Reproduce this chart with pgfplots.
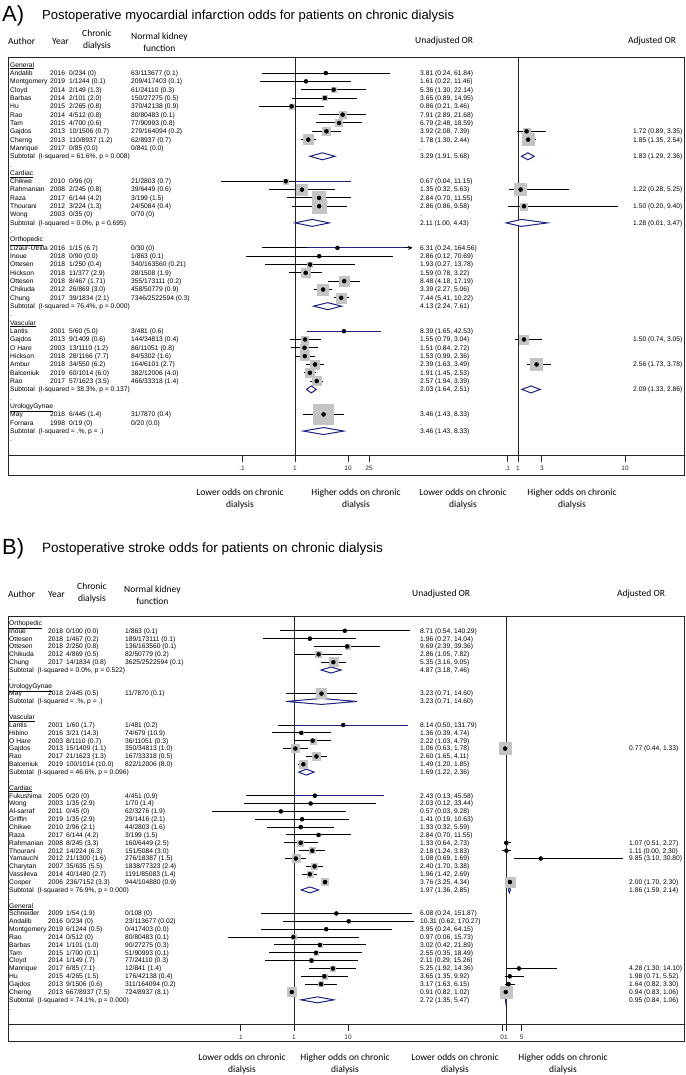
\documentclass[border=0pt]{standalone}
\usepackage{pgfplots}
\pgfplotsset{compat=1.18}
\usepackage{pgfplotstable}
\usepackage{fontspec}
\setmainfont{Liberation Sans}
\newfontfamily\calfont{Carlito}
\definecolor{boxgray}{RGB}{196,196,196}
\definecolor{dnavy}{RGB}{28,36,128}

% ---------- Panel A, unadjusted ----------
\pgfplotstableread{
row or lo hi h
1 3.81 0.24 61.84 0
2 1.61 0.22 11.46 0
3 5.36 1.30 22.14 2.5
4 3.65 0.89 14.95 2.5
5 0.86 0.21 3.46 2.5
6 7.91 2.89 21.68 3.5
7 6.79 2.48 18.59 3.5
8 3.92 2.08 7.39 4
9 1.78 1.30 2.44 5
14 0.67 0.04 11.15 2.5
15 1.35 0.32 5.63 5.5
16 2.84 0.70 11.55 6.5
17 2.86 0.86 9.58 7
22 6.31 0.24 164.56 0
23 2.86 0.12 70.69 0
24 1.93 0.27 13.78 2.5
25 1.59 0.78 3.22 4.5
26 8.48 4.18 17.19 5
27 3.39 2.27 5.06 5.5
28 7.44 5.41 10.22 5
32 8.39 1.65 42.53 0
33 1.55 0.79 3.04 3.5
34 1.51 0.84 2.72 4
35 1.53 0.99 2.36 4.5
36 2.39 1.63 3.49 4.5
37 1.91 1.45 2.53 4.5
38 2.57 1.94 3.39 4.5
42 3.46 1.43 8.33 10
}\tabAu
% ---------- Panel A, adjusted ----------
\pgfplotstableread{
row or lo hi h
8 1.72 0.89 3.35 3.5
9 1.85 1.35 2.54 6
15 1.22 0.28 5.25 6
17 1.50 0.20 9.40 3.5
33 1.50 0.74 3.05 4.5
36 2.56 1.73 3.78 6
}\tabAa
% ---------- Panel B, unadjusted ----------
\pgfplotstableread{
row or lo hi h
1 8.71 0.54 140.29 0
2 1.96 0.27 14.04 1.5
3 9.69 2.39 39.36 2.5
4 2.86 1.05 7.82 3
5 5.35 3.16 9.05 4.5
9 3.23 0.71 14.60 5
13 8.14 0.50 131.79 0
14 1.36 0.39 4.74 1.5
15 2.22 1.03 4.79 3
16 1.06 0.63 1.78 4
17 2.60 1.65 4.11 4
18 1.49 1.20 1.85 4
22 2.43 0.13 45.58 0
23 2.03 0.12 33.44 0
24 0.57 0.03 9.28 0
25 1.41 0.19 10.63 1
26 1.33 0.32 5.59 1.5
27 2.84 0.70 11.55 1.5
28 1.33 0.64 2.73 3
29 2.18 1.24 3.83 3
30 1.08 0.69 1.69 4
31 2.40 1.70 3.38 3
32 1.96 1.42 2.69 3
33 3.76 3.25 4.34 3.5
37 6.08 0.24 151.87 0
38 10.31 0.62 170.27 0
39 3.95 0.24 64.15 0
40 0.97 0.06 15.73 2.5
41 3.02 0.42 21.89 2
42 2.55 0.35 18.49 2
43 2.11 0.29 15.26 2
44 5.25 1.92 14.36 2.5
45 3.65 1.35 9.92 2.5
46 3.17 1.63 6.15 2.5
47 0.91 0.82 1.02 4.5
}\tabBu
% ---------- Panel B, adjusted ----------
\pgfplotstableread{
row or lo hi h
16 0.77 0.44 1.33 6
28 1.07 0.51 2.27 1.5
29 1.11 0.00 2.30 0
30 9.85 3.10 30.80 0
33 2.00 1.70 2.30 5
44 4.28 1.30 14.10 0
45 1.98 0.71 5.52 0
46 1.64 0.82 3.30 1.5
47 0.94 0.83 1.06 6
}\tabBa

\pgfplotsset{
  fpax/.style={
    scale only axis, anchor=north west, clip=false,
    axis y line=none, axis x line*=bottom, y dir=reverse,
    x axis line style={-, line width=0.9pt, color=black!85},
    tick align=outside, major tick length=7pt,
    xtick style={line width=0.9pt, color=black!85},
    xminorticks=false, ytick=\empty,
    ticklabel style={font=\fontsize{6.5}{7.5}\selectfont, text=black!85},
    /pgf/number format/assume math mode=true,
  },
  sq/.style={only marks, mark=square*, color=boxgray, scatter,
    mark options={draw=boxgray, fill=boxgray},
    scatter/use mapped color={draw=boxgray, fill=boxgray},
    visualization depends on={\thisrow{h} \as \hsz},
    scatter/@pre marker code/.append style={/tikz/mark size=\hsz}},
  ci/.style={only marks, mark=none,
    error bars/.cd, x dir=both, x explicit, error mark=none,
    error bar style={line width=1pt, draw=black, line cap=butt}},
  dot/.style={only marks, mark=*, mark size=1.5pt, black},
  dia/.style={draw=dnavy, fill=white, line width=1pt, mark=none},
  nul/.style={black!85, line width=0.9pt, mark=none},
  nv/.style={dnavy, line width=1pt, mark=none},
}
\tikzset{
  tx/.style={anchor=base west, inner sep=0pt, yshift=-2.4pt, font=\fontsize{6.7}{7.5}\selectfont},
  hd/.style={inner sep=0pt, font=\calfont\fontsize{9.5}{11.5}\selectfont, align=center},
  bl/.style={inner sep=0pt, font=\calfont\fontsize{9.5}{12}\selectfont, align=center},
}
\newcommand\xa{10}\newcommand\xy{50}\newcommand\xc{69}\newcommand\xn{131}\newcommand\xo{420}\newcommand\xq{633}
\newcommand\RowT[6]{%
  \node[tx] at (\xa,#1) {#2};\node[tx] at (\xy,#1) {#3};
  \node[tx] at (\xc,#1) {#4};\node[tx] at (\xn,#1) {#5};
  \node[tx] at (\xo,#1) {#6};}
\newcommand\AdjT[2]{\node[tx] at (\xq,#1) {#2};}
\newcommand\LabT[2]{\node[tx] at (\xa,#1) {#2};}
\newcommand\SubT[3]{\node[tx] at (\xa,#1) {#2};\node[tx] at (\xo,#1) {#3};}

\begin{document}
\begin{tikzpicture}
\begin{scope}[x=1pt,y=-1pt]
\useasboundingbox (0,0) rectangle (685,1075);
% ---------------- Panel A frame and labels
\node[anchor=west, inner sep=0pt, font=\fontsize{22}{24}\selectfont] at (2,16) {A)};
\node[anchor=west, inner sep=0pt, font=\fontsize{13}{15}\selectfont] at (42,16) {Postoperative myocardial infarction odds for patients on chronic dialysis};
\node[hd, anchor=west] at (8,41) {Author};
\node[hd, anchor=west] at (52,41) {Year};
\node[hd, anchor=west] at (82,40) {Chronic\\dialysis};
\node[hd, anchor=west] at (131,42) {Normal kidney\\function};
\node[hd, anchor=west] at (415,41) {Unadjusted OR};
\node[hd, anchor=west] at (628,41) {Adjusted OR};
\draw[line width=1pt, black!85] (8,58) rectangle (684,475);
\draw[line width=0.9pt, black!85] (8,455) -- (684,455);
\node[bl] at (240,499) {Lower odds on chronic\\dialysis};
\node[bl] at (356,499) {Higher odds on chronic\\dialysis};
\node[bl] at (463,499) {Lower odds on chronic\\dialysis};
\node[bl] at (572,499) {Higher odds on chronic\\dialysis};
% ---------------- Panel B frame and labels
\node[anchor=west, inner sep=0pt, font=\fontsize{22}{24}\selectfont] at (2,549) {B)};
\node[anchor=west, inner sep=0pt, font=\fontsize{13.5}{15}\selectfont] at (42,549) {Postoperative stroke odds for patients on chronic dialysis};
\node[hd, anchor=west] at (8,594) {Author};
\node[hd, anchor=west] at (48,594) {Year};
\node[hd, anchor=west] at (77,593) {Chronic\\dialysis};
\node[hd, anchor=west] at (124,595) {Normal kidney\\function};
\node[hd, anchor=west] at (412,594) {Unadjusted OR};
\node[hd, anchor=west] at (617,594) {Adjusted OR};
\draw[line width=1pt, black!85] (8,616) rectangle (684,1041);
\draw[line width=0.9pt, black!85] (8,1024) -- (684,1024);
\node[bl] at (242,1064) {Lower odds on chronic\\dialysis};
\node[bl] at (345,1064) {Higher odds on chronic\\dialysis};
\node[bl] at (455,1064) {Lower odds on chronic\\dialysis};
\node[bl] at (563,1064) {Higher odds on chronic\\dialysis};
\end{scope}

% ---------------- Panel A table text
\begin{scope}[x=1pt, y=-8.326pt, yshift=-64.7pt]
\LabT{0}{\underline{General}}
\RowT{1}{Andalib}{2016}{0/234 (0)}{63/113677 (0.1)}{3.81 (0.24, 61.84)}
\RowT{2}{Montgomery}{2019}{1/1244 (0.1)}{209/417403 (0.1)}{1.61 (0.22, 11.46)}
\RowT{3}{Cloyd}{2014}{2/149 (1.3)}{61/24110 (0.3)}{5.36 (1.30, 22.14)}
\RowT{4}{Barbas}{2014}{2/101 (2.0)}{150/27275 (0.5)}{3.65 (0.89, 14.95)}
\RowT{5}{Hu}{2015}{2/265 (0.8)}{370/42138 (0.9)}{0.86 (0.21, 3.46)}
\RowT{6}{Rao}{2014}{4/512 (0.8)}{80/80483 (0.1)}{7.91 (2.89, 21.68)}
\RowT{7}{Tam}{2015}{4/700 (0.6)}{77/90993 (0.8)}{6.79 (2.48, 18.59)}
\RowT{8}{Gajdos}{2013}{10/1506 (0.7)}{279/164094 (0.2)}{3.92 (2.08, 7.39)}
\RowT{9}{Cherng}{2013}{110/8937 (1.2)}{62/8937 (0.7)}{1.78 (1.30, 2.44)}
\RowT{10}{Manrique}{2017}{0/85 (0.0)}{0/841 (0.0)}{.}
\SubT{11}{Subtotal\ \ (I-squared = 61.6\%, p = 0.008)}{3.29 (1.91, 5.68)}
\LabT{12}{.}
\LabT{13}{\underline{Cardiac}}
\RowT{14}{Chikwe}{2010}{0/96 (0)}{21/2803 (0.7)}{0.67 (0.04, 11.15)}
\RowT{15}{Rahmanian}{2008}{2/245 (0.8)}{39/6449 (0.6)}{1.35 (0.32, 5.63)}
\RowT{16}{Raza}{2017}{6/144 (4.2)}{3/199 (1.5)}{2.84 (0.70, 11.55)}
\RowT{17}{Thourani}{2012}{3/224 (1.3)}{24/5084 (0.4)}{2.86 (0.86, 9.58)}
\RowT{18}{Wong}{2003}{0/35 (0)}{0/70 (0)}{.}
\SubT{19}{Subtotal\ \ (I-squared = 0.0\%, p = 0.695)}{2.11 (1.00, 4.43)}
\LabT{20}{.}
\LabT{21}{\underline{Orthopedic}}
\RowT{22}{Lizaur-Utrilla}{2016}{1/15 (6.7)}{0/30 (0)}{6.31 (0.24, 164.56)}
\RowT{23}{Inoue}{2018}{0/90 (0.0)}{1/863 (0.1)}{2.86 (0.12, 70.69)}
\RowT{24}{Ottesen}{2018}{1/250 (0.4)}{340/163560 (0.21)}{1.93 (0.27, 13.78)}
\RowT{25}{Hickson}{2018}{11/377 (2.9)}{28/1508 (1.9)}{1.59 (0.78, 3.22)}
\RowT{26}{Ottesen}{2018}{8/467 (1.71)}{355/173111 (0.2)}{8.48 (4.18, 17.19)}
\RowT{27}{Chikuda}{2012}{26/869 (3.0)}{458/50779 (0.9)}{3.39 (2.27, 5.06)}
\RowT{28}{Chung}{2017}{39/1834 (2.1)}{7346/2522594 (0.3)}{7.44 (5.41, 10.22)}
\SubT{29}{Subtotal\ \ (I-squared = 76.4\%, p = 0.000)}{4.13 (2.24, 7.61)}
\LabT{30}{.}
\LabT{31}{\underline{Vascular}}
\RowT{32}{Lantis}{2001}{5/60 (5.0)}{3/481 (0.6)}{8.39 (1.65, 42.53)}
\RowT{33}{Gajdos}{2013}{9/1409 (0.6)}{144/34813 (0.4)}{1.55 (0.79, 3.04)}
\RowT{34}{O Hare}{2003}{13/1110 (1.2)}{86/11051 (0.8)}{1.51 (0.84, 2.72)}
\RowT{35}{Hickson}{2018}{28/1166 (7.7)}{84/5302 (1.6)}{1.53 (0.99, 2.36)}
\RowT{36}{Ambur}{2018}{34/550 (6.2)}{164/6101 (2.7)}{2.39 (1.63, 3.49)}
\RowT{37}{Balceniuk}{2019}{60/1014 (6.0)}{382/12006 (4.0)}{1.91 (1.45, 2.53)}
\RowT{38}{Rao}{2017}{57/1623 (3.5)}{466/33318 (1.4)}{2.57 (1.94, 3.39)}
\SubT{39}{Subtotal\ \ (I-squared = 38.3\%, p = 0.137)}{2.03 (1.64, 2.51)}
\LabT{40}{.}
\LabT{41}{\underline{UrologyGynae}}
\RowT{42}{May}{2018}{6/445 (1.4)}{31/7870 (0.4)}{3.46 (1.43, 8.33)}
\RowT{43}{Fornara}{1998}{0/19 (0)}{0/20 (0.0)}{.}
\SubT{44}{Subtotal\ \ (I-squared = .\%, p = .)}{3.46 (1.43, 8.33)}
\LabT{45}{.}
\AdjT{8}{1.72 (0.89, 3.35)}\AdjT{9}{1.85 (1.35, 2.54)}\AdjT{11}{1.83 (1.29, 2.36)}
\AdjT{15}{1.22 (0.28, 5.25)}\AdjT{17}{1.50 (0.20, 9.40)}\AdjT{19}{1.28 (0.01, 3.47)}
\AdjT{33}{1.50 (0.74, 3.05)}\AdjT{36}{2.56 (1.73, 3.78)}\AdjT{39}{2.09 (1.33, 2.86)}
\end{scope}

% ---------------- Panel B table text
\renewcommand\xa{9}\renewcommand\xy{48}\renewcommand\xc{66}\renewcommand\xn{125}\renewcommand\xo{420}\renewcommand\xq{629}
\begin{scope}[x=1pt, y=-7.853pt, yshift=-622.9pt]
\LabT{0}{\underline{Orthopedic}}
\RowT{1}{Inoue}{2018}{0/100 (0.0)}{1/863 (0.1)}{8.71 (0.54, 140.29)}
\RowT{2}{Ottesen}{2018}{1/467 (0.2)}{189/173111 (0.1)}{1.96 (0.27, 14.04)}
\RowT{3}{Ottesen}{2018}{2/250 (0.8)}{136/163560 (0.1)}{9.69 (2.39, 39.36)}
\RowT{4}{Chikuda}{2012}{4/869 (0.5)}{82/50779 (0.2)}{2.86 (1.05, 7.82)}
\RowT{5}{Chung}{2017}{14/1834 (0.8)}{3625/2522594 (0.1)}{5.35 (3.16, 9.05)}
\SubT{6}{Subtotal\ \ (I-squared = 0.0\%, p = 0.522)}{4.87 (3.18, 7.46)}
\LabT{7}{.}
\LabT{8}{\underline{UrologyGynae}}
\RowT{9}{May}{2018}{2/445 (0.5)}{11/7870 (0.1)}{3.23 (0.71, 14.60)}
\SubT{10}{Subtotal\ \ (I-squared = .\%, p = .)}{3.23 (0.71, 14.60)}
\LabT{11}{.}
\LabT{12}{\underline{Vascular}}
\RowT{13}{Lantis}{2001}{1/60 (1.7)}{1/481 (0.2)}{8.14 (0.50, 131.79)}
\RowT{14}{Hibino}{2016}{3/21 (14.3)}{74/679 (10.9)}{1.36 (0.39, 4.74)}
\RowT{15}{O Hare}{2003}{8/1110 (0.7)}{36/11051 (0.3)}{2.22 (1.03, 4.79)}
\RowT{16}{Gajdos}{2013}{15/1409 (1.1)}{350/34813 (1.0)}{1.06 (0.63, 1.78)}
\RowT{17}{Rao}{2017}{21/1623 (1.3)}{167/33318 (0.5)}{2.60 (1.65, 4.11)}
\RowT{18}{Balceniuk}{2019}{100/1014 (10.0)}{822/12006 (8.0)}{1.49 (1.20, 1.85)}
\SubT{19}{Subtotal\ \ (I-squared = 46.6\%, p = 0.096)}{1.69 (1.22, 2.36)}
\LabT{20}{.}
\LabT{21}{\underline{Cardiac}}
\RowT{22}{Fukushima}{2005}{0/20 (0)}{4/451 (0.9)}{2.43 (0.13, 45.58)}
\RowT{23}{Wong}{2003}{1/35 (2.9)}{1/70 (1.4)}{2.03 (0.12, 33.44)}
\RowT{24}{Al-sarraf}{2011}{0/45 (0)}{62/3276 (1.9)}{0.57 (0.03, 9.28)}
\RowT{25}{Griffin}{2019}{1/35 (2.9)}{29/1416 (2.1)}{1.41 (0.19, 10.63)}
\RowT{26}{Chikwe}{2010}{2/96 (2.1)}{44/2803 (1.6)}{1.33 (0.32, 5.59)}
\RowT{27}{Raza}{2017}{6/144 (4.2)}{3/199 (1.5)}{2.84 (0.70, 11.55)}
\RowT{28}{Rahmanian}{2008}{8/245 (3.3)}{160/6449 (2.5)}{1.33 (0.64, 2.73)}
\RowT{29}{Thourani}{2012}{14/224 (6.3)}{151/5084 (3.0)}{2.18 (1.24, 3.83)}
\RowT{30}{Yamauchi}{2012}{21/1300 (1.6)}{276/18387 (1.5)}{1.08 (0.69, 1.69)}
\RowT{31}{Charytan}{2007}{35/635 (5.5)}{1838/77323 (2.4)}{2.40 (1.70, 3.38)}
\RowT{32}{Vassileva}{2014}{40/1480 (2.7)}{1191/85083 (1.4)}{1.96 (1.42, 2.69)}
\RowT{33}{Cooper}{2006}{236/7152 (3.3)}{944/104880 (0.9)}{3.76 (3.25, 4.34)}
\SubT{34}{Subtotal\ \ (I-squared = 76.9\%, p = 0.000)}{1.97 (1.36, 2.85)}
\LabT{35}{.}
\LabT{36}{\underline{General}}
\RowT{37}{Schneider}{2009}{1/54 (1.9)}{0/108 (0)}{6.08 (0.24, 151.87)}
\RowT{38}{Andalib}{2016}{0/234 (0)}{23/113677 (0.02)}{10.31 (0.62, 170.27)}
\RowT{39}{Montgomery}{2019}{6/1244 (0.5)}{0/417403 (0.0)}{3.95 (0.24, 64.15)}
\RowT{40}{Rao}{2014}{0/512 (0)}{80/80483 (0.1)}{0.97 (0.06, 15.73)}
\RowT{41}{Barbas}{2014}{1/101 (1.0)}{90/27275 (0.3)}{3.02 (0.42, 21.89)}
\RowT{42}{Tam}{2015}{1/700 (0.1)}{51/90993 (0.1)}{2.55 (0.35, 18.49)}
\RowT{43}{Cloyd}{2014}{1/149 (.7)}{77/24110 (0.3)}{2.11 (0.29, 15.26)}
\RowT{44}{Manrique}{2017}{6/85 (7.1)}{12/841 (1.4)}{5.25 (1.92, 14.36)}
\RowT{45}{Hu}{2015}{4/265 (1.5)}{176/42138 (0.4)}{3.65 (1.35, 9.92)}
\RowT{46}{Gajdos}{2013}{9/1506 (0.6)}{311/164094 (0.2)}{3.17 (1.63, 6.15)}
\RowT{47}{Cherng}{2013}{667/8937 (7.5)}{724/8937 (8.1)}{0.91 (0.82, 1.02)}
\SubT{48}{Subtotal\ \ (I-squared = 74.1\%, p = 0.000)}{2.72 (1.35, 5.47)}
\LabT{49}{.}
\AdjT{16}{0.77 (0.44, 1.33)}\AdjT{28}{1.07 (0.51, 2.27)}\AdjT{29}{1.11 (0.00, 2.30)}
\AdjT{30}{9.85 (3.10, 30.80)}\AdjT{33}{2.00 (1.70, 2.30)}\AdjT{34}{1.86 (1.59, 2.14)}
\AdjT{44}{4.28 (1.30, 14.10)}\AdjT{45}{1.98 (0.71, 5.52)}\AdjT{46}{1.64 (0.82, 3.30)}
\AdjT{47}{0.94 (0.83, 1.06)}\AdjT{48}{0.95 (0.84, 1.06)}
\end{scope}

% ================= Panel A unadjusted axis
\begin{axis}[fpax, at={(200pt,-58pt)}, width=220pt, height=397pt,
  xmode=log, xmin=0.016124, xmax=228.3, ymin=-0.805, ymax=46.877,
  xtick={0.1,1,10,25}, xticklabels={.1,1,10,25}]
\addplot[nul] coordinates {(1,-0.805) (1,46.877)};
\addplot[sq] table[x=or,y=row]{\tabAu};
\addplot[ci] table[x=or,y=row, x error plus expr=\thisrow{hi}-\thisrow{or}, x error minus expr=\thisrow{or}-\thisrow{lo}]{\tabAu};
\addplot[nv] coordinates {(1,14) (11.15,14)};
\addplot[nv] coordinates {(1.7,22) (140,22)};
\addplot[nv] coordinates {(1.65,32) (42.53,32)};
\addplot[black, line width=1pt, -stealth, mark=none] coordinates {(120,22) (164.56,22)};
\addplot[dot] table[x=or,y=row]{\tabAu};
\addplot[dia] coordinates {(1.91,11) (3.29,10.58) (5.68,11) (3.29,11.42)} -- cycle;
\addplot[dia] coordinates {(1.00,19) (2.11,18.58) (4.43,19) (2.11,19.42)} -- cycle;
\addplot[dia] coordinates {(2.24,29) (4.13,28.58) (7.61,29) (4.13,29.42)} -- cycle;
\addplot[dia] coordinates {(1.64,39) (2.03,38.58) (2.51,39) (2.03,39.42)} -- cycle;
\addplot[dia] coordinates {(1.43,44) (3.46,43.58) (8.33,44) (3.46,44.42)} -- cycle;
\end{axis}

% ================= Panel A adjusted axis
\begin{axis}[fpax, at={(470pt,-58pt)}, width=210pt, height=397pt,
  xmin=-3.0336, xmax=14.613, ymin=-0.805, ymax=46.877,
  xtick={0.1,1,3,10}, xticklabels={.1,1,3,10}]
\addplot[nul] coordinates {(1,-0.805) (1,46.877)};
\addplot[sq] table[x=or,y=row]{\tabAa};
\addplot[ci] table[x=or,y=row, x error plus expr=\thisrow{hi}-\thisrow{or}, x error minus expr=\thisrow{or}-\thisrow{lo}]{\tabAa};
\addplot[dot] table[x=or,y=row]{\tabAa};
\addplot[dia] coordinates {(1.29,11) (1.83,10.58) (2.36,11) (1.83,11.42)} -- cycle;
\addplot[dia] coordinates {(0.01,19) (1.28,18.58) (3.47,19) (1.28,19.42)} -- cycle;
\addplot[dia] coordinates {(1.33,39) (2.09,38.58) (2.86,39) (2.09,39.42)} -- cycle;
\end{axis}

% ================= Panel B unadjusted axis
\begin{axis}[fpax, at={(200pt,-616pt)}, width=220pt, height=408pt,
  xmode=log, xmin=0.018159, xmax=215.44, ymin=-0.879, ymax=51.076,
  xtick={0.1,1,10}, xticklabels={.1,1,10}]
\addplot[nul] coordinates {(1,-0.879) (1,51.076)};
\addplot[sq] table[x=or,y=row]{\tabBu};
\addplot[ci] table[x=or,y=row, x error plus expr=\thisrow{hi}-\thisrow{or}, x error minus expr=\thisrow{or}-\thisrow{lo}]{\tabBu};
\addplot[nv] coordinates {(1,13) (131.79,13)};
\addplot[nv] coordinates {(1,22) (45.58,22)};
\addplot[dot] table[x=or,y=row]{\tabBu};
\addplot[dia] coordinates {(3.18,6) (4.87,5.62) (7.46,6) (4.87,6.38)} -- cycle;
\addplot[dia] coordinates {(0.71,10) (3.23,9.62) (14.60,10) (3.23,10.38)} -- cycle;
\addplot[dia] coordinates {(1.22,19) (1.69,18.62) (2.36,19) (1.69,19.38)} -- cycle;
\addplot[dia] coordinates {(1.36,34) (1.97,33.62) (2.85,34) (1.97,34.38)} -- cycle;
\addplot[dia] coordinates {(1.35,48) (2.72,47.62) (5.47,48) (2.72,48.38)} -- cycle;
\end{axis}

% ================= Panel B adjusted axis
\begin{axis}[fpax, at={(470pt,-616pt)}, width=210pt, height=408pt,
  xmin=-8.160, xmax=45.275, ymin=-0.879, ymax=51.076,
  xtick={0,1,5}, xticklabels={0,1,5}]
\addplot[nul] coordinates {(1,-0.879) (1,51.076)};
\addplot[sq] table[x=or,y=row]{\tabBa};
\addplot[ci] table[x=or,y=row, x error plus expr=\thisrow{hi}-\thisrow{or}, x error minus expr=\thisrow{or}-\thisrow{lo}]{\tabBa};
\addplot[dot] table[x=or,y=row]{\tabBa};
\addplot[dia] coordinates {(1.59,34) (1.86,33.62) (2.14,34) (1.86,34.38)} -- cycle;
\addplot[dia] coordinates {(0.84,48) (0.95,47.62) (1.06,48) (0.95,48.38)} -- cycle;
\end{axis}
\end{tikzpicture}
\end{document}
